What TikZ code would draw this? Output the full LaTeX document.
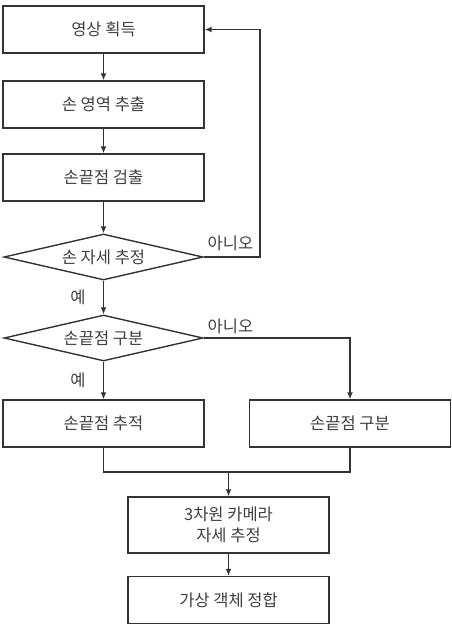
\documentclass[tikz,border=0pt]{standalone}
\usepackage{fontspec}
\setmainfont{Noto Sans CJK KR}
\usetikzlibrary{arrows.meta,shapes.geometric}
\tikzset{box/.style={draw=black!80,line width=1.4pt,fill=white,minimum width=201pt,minimum height=47pt,
    align=center,font=\fontsize{16.5}{21}\selectfont,text=black!75},
  cond/.style={box,diamond,aspect=4.3,inner sep=0pt,minimum width=199pt,minimum height=46pt},
  arr/.style={-{Latex[length=7pt,width=6pt]},line width=1.4pt,draw=black!80},
  lbl/.style={font=\fontsize{16.5}{21}\selectfont,text=black!75}}

\begin{document}
\begin{tikzpicture}[x=1pt,y=-1pt]
\useasboundingbox (0,0) rectangle (451,630);
% left column
\node[box] (grab) at (103.5,29.5) {영상 획득};
\node[box] (region) at (103.5,104.5) {손 영역 추출};
\node[box] (tipdet) at (103.5,177.5) {손끝점 검출};
\node[cond] (pose) at (103.5,257) {손 자세 추정};
\node[cond] (sep) at (103.5,338) {손끝점 구분};
\node[box] (track) at (103.5,423.5) {손끝점 추적};
% right branch and merge
\node[box] (tipsep) at (350,423.5) {손끝점 구분};
\node[box,minimum height=56pt] (campose) at (228.5,525) {3차원 카메라\\자세 추정};
\node[box] (match) at (228.5,600) {가상 객체 정합};
\coordinate (back) at (260,29.5);
\coordinate (join) at (228.5,472);

\draw[arr] (grab) -- (region);
\draw[arr] (region) -- (tipdet);
\draw[arr] (tipdet) -- (pose);
\draw[arr] (pose.east) node[lbl,above right,yshift=2pt]{아니오} -| (back) -- (grab.east);
\draw[arr] (pose) -- node[lbl,left=14pt]{예} (sep);
\draw[arr] (sep.east) node[lbl,above right]{아니오} -| (tipsep);
\draw[arr] (sep) -- node[lbl,left=14pt]{예} (track);
\draw[line width=1.4pt,draw=black!80] (track.south) |- (tipsep.south |- join) -- (tipsep.south);
\draw[arr] (join) -- (campose);
\draw[arr] (campose) -- (match);
\end{tikzpicture}
\end{document}
